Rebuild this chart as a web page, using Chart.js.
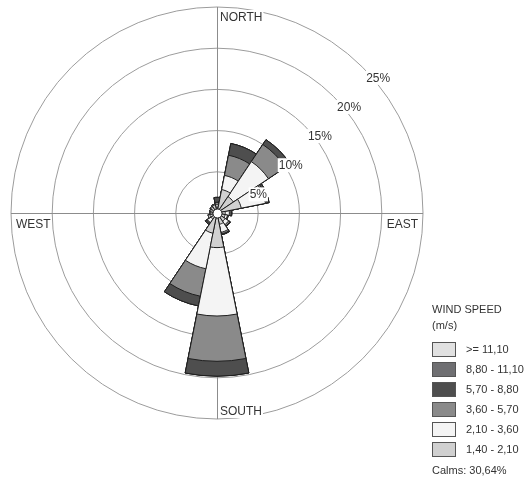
<!DOCTYPE html>
<html>
<head>
<meta charset="utf-8">
<title>Wind rose</title>
<script src="https://cdn.jsdelivr.net/npm/chart.js@4.4.0/dist/chart.umd.min.js"></script>
<style>
  html, body { margin: 0; padding: 0; background: #fff; }
  #wrap { position: relative; width: 529px; height: 479px; font-family: "Liberation Sans", Arial, sans-serif; color: #333; }
  #rose { position: absolute; left: 0; top: 0; }
  #legend { position: absolute; left: 432px; top: 301px; font-size: 11px; line-height: 16px; }
  #legend .items { margin-top: 9px; }
  #legend .item { height: 20px; display: flex; align-items: flex-start; }
  #legend .box { width: 22px; height: 13px; border: 1px solid #555; box-sizing: content-box; }
  #legend .txt { margin-left: 10px; line-height: 15px; }
  #legend .calms { margin-top: 0; }
</style>
</head>
<body>
<div id="wrap">
  <canvas id="rose" width="529" height="479"></canvas>
  <div id="legend">
    <div>WIND SPEED<br>(m/s)</div>
    <div class="items" id="items"></div>
    <div class="calms" id="calms"></div>
  </div>
</div>
<script>
// 16 sectores, valores en % por clase de velocidad
const directions = ['N', 'NNE', 'NE', 'ENE', 'E', 'ESE', 'SE', 'SSE', 'S', 'SSW', 'SW', 'WSW', 'W', 'WNW', 'NW', 'NNW'];
const speedClasses = ['1,40 - 2,10', '2,10 - 3,60', '3,60 - 5,70', '5,70 - 8,80', '8,80 - 11,10', '>= 11,10'];
const ringTicks = [5, 10, 15, 20, 25];
const calms = 30.64;

const spd1 = [0.7, 2.9, 2.4, 3.0, 1.0, 1.0, 1.2, 1.4, 4.2, 2.5, 0.9, 0.9, 0.8, 0.8, 0.9, 1.0];
const spd2 = [0.3, 1.75, 5.1, 3.0, 0.5, 0.3, 0.5, 1.0, 8.3, 4.4, 0.5, 0.2, 0.1, 0.1, 0.1, 0.1];
const spd3 = [0.3, 2.5, 2.5, 0.2, 0.2, 0.1, 0.2, 0.2, 5.5, 3.4, 0.1, 0, 0, 0, 0, 0];
const spd4 = [0.6, 1.45, 0.7, 0.25, 0.1, 0, 0.05, 0.1, 1.8, 1.2, 0.2, 0, 0, 0, 0, 0];
const spd5 = [0, 0, 0, 0, 0, 0, 0, 0, 0, 0, 0, 0, 0, 0, 0, 0];
const spd6 = [0, 0, 0, 0, 0, 0, 0, 0, 0, 0, 0, 0, 0, 0, 0, 0];

const classColors = ['#d0d0d0', '#f4f4f4', '#8a8a8a', '#4e4e4e', '#6f6f72', '#e1e1e1'];

document.addEventListener('DOMContentLoaded', () => {

    // acumulado: cada clase se dibuja desde el centro hasta su suma
    const speedData = [spd1, spd2, spd3, spd4, spd5, spd6];
    let running = directions.map(() => 0);
    const datasets = speedData.map((vals, k) => {
        running = running.map((r, i) => r + vals[i]);
        return {
            label: speedClasses[k],
            data: running.slice(),
            backgroundColor: classColors[k],
            borderColor: '#1e1e1e',
            borderWidth: 1
        };
    });

    // ejes, círculo de calmas y textos
    const roseDecor = {
        id: 'roseDecor',
        beforeDatasetsDraw(chart) {
            const s = chart.scales.r;
            const R = s.getDistanceFromCenterForValue(s.max);
            const c = chart.ctx;
            c.save();
            c.strokeStyle = '#8c8c8c';
            c.lineWidth = 1;
            c.beginPath();
            c.moveTo(s.xCenter + 0.5, s.yCenter - R);
            c.lineTo(s.xCenter + 0.5, s.yCenter + R);
            c.moveTo(s.xCenter - R, s.yCenter + 0.5);
            c.lineTo(s.xCenter + R, s.yCenter + 0.5);
            c.stroke();
            c.restore();
        },
        afterDatasetsDraw(chart) {
            const s = chart.scales.r;
            const R = s.getDistanceFromCenterForValue(s.max);
            const cx = s.xCenter, cy = s.yCenter;
            const c = chart.ctx;
            c.save();

            c.beginPath();
            c.arc(cx + 0.5, cy + 0.5, 4.5, 0, Math.PI * 2);
            c.fillStyle = '#fff';
            c.fill();
            c.strokeStyle = '#1e1e1e';
            c.lineWidth = 1;
            c.stroke();

            c.font = '12px "Liberation Sans", Arial, sans-serif';
            const label = (txt, x, y, align) => {
                c.textAlign = align;
                c.textBaseline = 'alphabetic';
                const w = c.measureText(txt).width;
                const left = align === 'right' ? x - w : x;
                c.fillStyle = '#fff';
                c.fillRect(left - 1, y - 11, w + 2, 14);
                c.fillStyle = '#333';
                c.fillText(txt, x, y);
            };

            ringTicks.forEach(v => {
                const r = s.getDistanceFromCenterForValue(v);
                label(v + '%', cx + r * Math.SQRT1_2 + 3.5, cy - r * Math.SQRT1_2 + 14.5, 'left');
            });

            label('NORTH', cx + 3, cy - R + 14, 'left');
            label('SOUTH', cx + 3, cy + R - 4, 'left');
            label('WEST', cx - R + 5, cy + 15, 'left');
            label('EAST', cx + R - 5, cy + 15, 'right');
            c.restore();
        }
    };

    new Chart(document.getElementById('rose'), {
        type: 'polarArea',
        data: { labels: directions, datasets },
        options: {
            responsive: false,
            animation: false,
            layout: { padding: { left: 11, top: 7, right: 106, bottom: 60 } },
            plugins: { legend: { display: false }, tooltip: { enabled: false } },
            scales: {
                r: {
                    min: 0,
                    max: 25,
                    startAngle: -11.25,
                    ticks: { display: false, stepSize: 5 },
                    grid: { circular: true, color: '#9c9c9c', lineWidth: 1 },
                    angleLines: { display: false },
                    pointLabels: { display: false }
                }
            }
        },
        plugins: [roseDecor]
    });

    // leyenda: de la clase más alta a la más baja
    const items = document.getElementById('items');
    for (let k = speedClasses.length - 1; k >= 0; k--) {
        const row = document.createElement('div');
        row.className = 'item';
        row.innerHTML = '<div class="box" style="background:' + classColors[k] + '"></div><div class="txt">' + speedClasses[k].replace('>', '&gt;') + '</div>';
        items.appendChild(row);
    }
    document.getElementById('calms').textContent = 'Calms: ' + calms.toFixed(2).replace('.', ',') + '%';
});
</script>
</body>
</html>
